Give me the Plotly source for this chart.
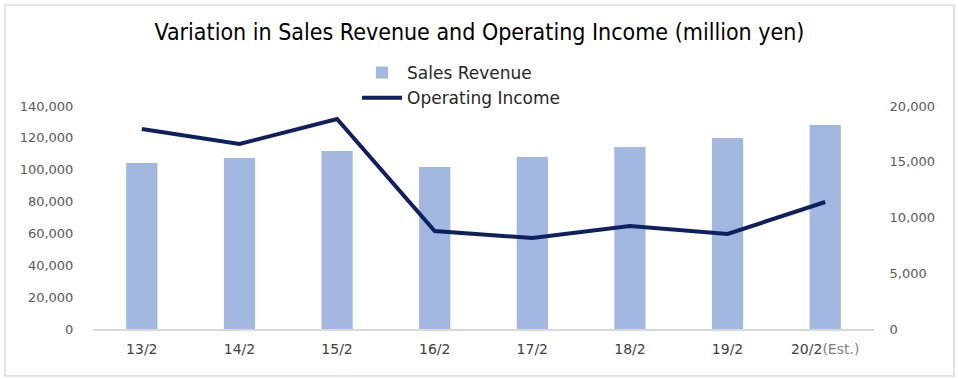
import plotly.graph_objects as go

categories = ["13/2", "14/2", "15/2", "16/2", "17/2", "18/2", "19/2", "20/2"]
tick_labels = ["13/2", "14/2", "15/2", "16/2", "17/2", "18/2", "19/2",
               "20/2<span style='color:#808080'>(Est.)</span>"]
sales_revenue = [104200, 107400, 111700, 101700, 108000, 114300, 119900, 128000]
operating_income = [17940, 16590, 18830, 8790, 8160, 9240, 8520, 11390]

cond = "DejaVu Sans Condensed, DejaVu Sans, sans-serif"
sans = "DejaVu Sans, sans-serif"

L, R, T, B = 93, 874, 106, 329
W, H = R - L, B - T

fig = go.Figure()
fig.add_trace(go.Bar(
    x=categories, y=sales_revenue, name="Sales Revenue",
    marker=dict(color="#a2b8e1", line=dict(width=0)),
    width=0.32, yaxis="y",
))
fig.add_trace(go.Scatter(
    x=categories, y=operating_income, name="Operating Income",
    mode="lines", line=dict(color="#0e2060", width=4), yaxis="y2",
))

fig.update_layout(
    width=959, height=379,
    margin=dict(l=L, r=959 - R, t=T, b=379 - B, autoexpand=False),
    paper_bgcolor="white", plot_bgcolor="white",
    font=dict(family=sans, color="#595959", size=13),
    title=dict(text="Variation in Sales Revenue and Operating Income (million yen)",
               x=0.5, xanchor="center", yref="container", y=1 - 32 / 379, yanchor="middle",
               font=dict(size=23, color="#000000", family=cond)),
    legend=dict(orientation="v", x=(357 - L) / W, xanchor="left", yref="container",
                y=1 - 55 / 379, yanchor="top",
                font=dict(size=17, color="#262626", family=sans),
                bgcolor="rgba(0,0,0,0)", tracegroupgap=0, itemwidth=40),
    showlegend=True,
    xaxis=dict(tickmode="array", tickvals=categories, ticktext=tick_labels,
               showline=True, linecolor="#d9d9d9", linewidth=1.5,
               showgrid=False, ticks="outside", ticklen=6, tickcolor="white",
               tickfont=dict(size=14, color="#404040", family=sans)),
    yaxis=dict(range=[0, 140000], tickvals=list(range(0, 140001, 20000)),
               tickformat=",", showgrid=False, zeroline=False, showline=False,
               ticks="outside", ticklen=16, tickcolor="white",
               tickfont=dict(size=13, color="#595959", family=sans)),
    yaxis2=dict(range=[0, 20000], tickvals=list(range(0, 20001, 5000)),
                tickformat=",", overlaying="y", side="right", showgrid=False,
                zeroline=False, showline=False, ticks="outside", ticklen=12,
                tickcolor="white", tickfont=dict(size=13, color="#595959", family=sans)),
    shapes=[dict(type="rect", xref="paper", yref="paper",
                 x0=(5 - L) / W, x1=(954 - L) / W, y0=(B - 376) / H, y1=(B - 5) / H,
                 line=dict(color="#d9d9d9", width=1.5), fillcolor="rgba(0,0,0,0)")],
)

fig.write_html("out.html", config={"displayModeBar": False},
               post_script="document.body.style.margin='0';document.body.style.overflow='hidden';")
